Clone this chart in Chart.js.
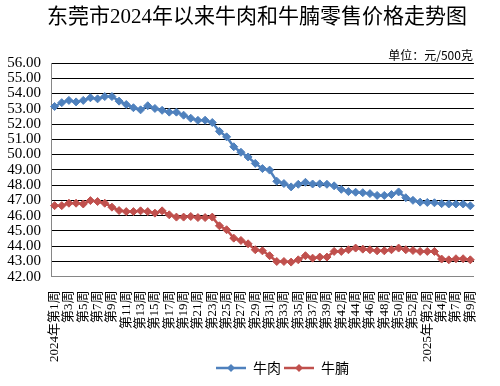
<!DOCTYPE html>
<html>
<head>
<meta charset="utf-8">
<script src="https://cdn.jsdelivr.net/npm/chart.js@4"></script>
<style>
  html, body { margin: 0; background: #fff; }
  #wrap { width: 500px; height: 386px; }
</style>
</head>
<body>
<div id="wrap"><canvas id="chart"></canvas></div>
<script>
const TITLE = "东莞市2024年以来牛肉和牛腩零售价格走势图";
const UNIT = "单位：元/500克";

// week labels (2024 wk40 and 2025 wk5 have no data)
const weeks = [
  "2024年第1周", "第2周", "第3周", "第4周", "第5周", "第6周", "第7周", "第8周", "第9周", "第10周",
  "第11周", "第12周", "第13周", "第14周", "第15周", "第16周", "第17周", "第18周", "第19周", "第20周",
  "第21周", "第22周", "第23周", "第24周", "第25周", "第26周", "第27周", "第28周", "第29周", "第30周",
  "第31周", "第32周", "第33周", "第34周", "第35周", "第36周", "第37周", "第38周", "第39周", "第41周",
  "第42周", "第43周", "第44周", "第45周", "第46周", "第47周", "第48周", "第49周", "第50周", "第51周",
  "第52周", "第1周", "2025年第2周", "第3周", "第4周", "第6周", "第7周", "第8周", "第9周"
];

const beef = [
  53.15, 53.40, 53.55, 53.45, 53.55, 53.72, 53.65, 53.80, 53.80, 53.50,
  53.28, 53.07, 52.93, 53.20, 53.02, 52.90, 52.78, 52.78, 52.58, 52.38,
  52.24, 52.25, 52.10, 51.52, 51.16, 50.51, 50.15, 49.84, 49.42, 49.08,
  48.98, 48.25, 48.10, 47.88, 48.05, 48.18, 48.07, 48.08, 48.05, 47.95,
  47.72, 47.57, 47.53, 47.50, 47.44, 47.32, 47.32, 47.38, 47.55, 47.17,
  47.00, 46.88, 46.86, 46.84, 46.78, 46.76, 46.76, 46.76, 46.64
];

const brisket = [
  46.65, 46.65, 46.81, 46.81, 46.76, 46.98, 46.92, 46.81, 46.55, 46.33,
  46.26, 46.26, 46.31, 46.26, 46.16, 46.31, 46.05, 45.90, 45.90, 45.94,
  45.87, 45.87, 45.90, 45.33, 45.07, 44.52, 44.37, 44.15, 43.76, 43.69,
  43.37, 42.99, 42.99, 42.95, 43.10, 43.37, 43.21, 43.28, 43.28, 43.65,
  43.65, 43.76, 43.87, 43.80, 43.76, 43.69, 43.69, 43.76, 43.87, 43.76,
  43.71, 43.65, 43.65, 43.65, 43.15, 43.10, 43.17, 43.17, 43.10
];

const C_BEEF = "#4F81BD";
const C_BRISKET = "#C0504D";
const SERIF = '"Liberation Serif", "Noto Sans CJK SC", serif';
const SANS = '"Noto Sans CJK SC", sans-serif';

// line + diamond sample for the legend
function legendIcon(color) {
    const c = document.createElement("canvas");
    c.width = 30; c.height = 10;
    const g = c.getContext("2d");
    g.strokeStyle = color;
    g.lineWidth = 2.5;
    g.beginPath(); g.moveTo(0, 5); g.lineTo(30, 5); g.stroke();
    g.fillStyle = color;
    g.beginPath(); g.moveTo(15, 1); g.lineTo(19, 5); g.lineTo(15, 9); g.lineTo(11, 5); g.closePath(); g.fill();
    return c;
}

const headerText = {
    id: "headerText",
    afterLayout(chart) {
        // nudge legend to the right like the original
        chart.legend.left += 20;
        chart.legend.right += 20;
        // let the long rotated labels run down past the axis box
        chart.scales.x.bottom = chart.height;
    },
    afterDraw(chart) {
        const ctx = chart.ctx;
        ctx.save();
        ctx.fillStyle = "#000";
        ctx.textBaseline = "middle";
        ctx.font = "21px " + SERIF;
        ctx.textAlign = "center";
        ctx.fillText(TITLE, 257, 17);
        ctx.font = "12px " + SANS;
        ctx.textAlign = "right";
        ctx.fillText(UNIT, chart.chartArea.right - 1, 55);
        ctx.restore();
    }
};

const series = [
    { label: "牛肉", data: beef, color: C_BEEF },
    { label: "牛腩", data: brisket, color: C_BRISKET }
];

new Chart(document.getElementById("chart").getContext("2d"), {
    type: "line",
    data: {
        labels: weeks,
        datasets: series.map(s => ({
            label: s.label,
            data: s.data,
            borderColor: s.color,
            backgroundColor: s.color,
            borderWidth: 2.5,
            pointStyle: "rectRot",
            pointRadius: 4,
            pointHoverRadius: 4,
            pointBorderWidth: 1,
            pointBackgroundColor: s.color,
            pointBorderColor: s.color,
            tension: 0,
            fill: false
        }))
    },
    options: {
        responsive: true,
        maintainAspectRatio: false,
        animation: false,
        layout: { padding: { top: 63, right: 12, left: 0, bottom: 1 } },
        scales: {
            x: {
                offset: true,
                grid: { display: false, drawTicks: false },
                border: { display: true, color: "#868686", width: 1 },
                ticks: {
                    autoSkip: false,
                    minRotation: 90,
                    maxRotation: 90,
                    padding: 14,
                    color: "#000",
                    font: { family: SERIF, size: 13 },
                    callback: (v, i) => i % 2 === 0 ? weeks[i] : ""
                },
                afterFit: axis => { axis.height = 81.4; }
            },
            y: {
                min: 42,
                max: 56,
                grid: {
                    drawTicks: false,
                    color: c => c.tick && c.tick.value === 42 ? "#868686" : "#000",
                    lineWidth: 1
                },
                border: { display: true, color: "#868686", width: 1 },
                ticks: {
                    stepSize: 1,
                    autoSkip: false,
                    padding: 10,
                    color: "#000",
                    font: { family: SERIF, size: 15, lineHeight: 0.9 },
                    callback: v => Number(v).toFixed(2)
                },
                afterFit: axis => { axis.width = 51; }
            }
        },
        plugins: {
            title: { display: false },
            tooltip: { enabled: false },
            legend: {
                position: "bottom",
                fullSize: false,
                labels: {
                    usePointStyle: true,
                    pointStyleWidth: 30,
                    padding: 3,
                    color: "#000",
                    font: { family: SANS, size: 14 },
                    generateLabels: chart => chart.data.datasets.map((ds, i) => ({
                        text: ds.label,
                        pointStyle: legendIcon(ds.borderColor),
                        fillStyle: ds.borderColor,
                        strokeStyle: ds.borderColor,
                        lineWidth: 0,
                        hidden: false,
                        datasetIndex: i,
                        fontColor: "#000"
                    }))
                }
            }
        }
    },
    plugins: [headerText]
});
</script>
</body>
</html>
